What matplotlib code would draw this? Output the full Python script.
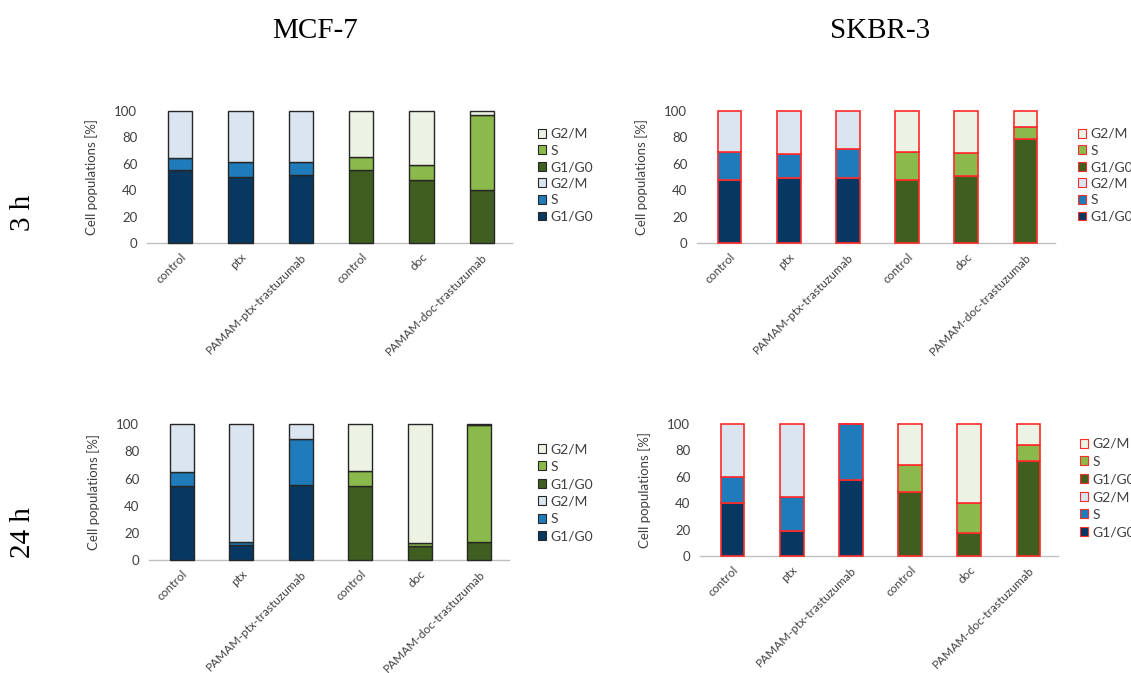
import matplotlib
matplotlib.use("Agg")
import matplotlib.pyplot as plt
from matplotlib.patches import Patch

# categories (shared by all four panels)
categories = ["control", "ptx", "PAMAM-ptx-trastuzumab",
              "control", "doc", "PAMAM-doc-trastuzumab"]
phases = ["G1/G0", "S", "G2/M"]

# cell cycle phases [%]
mcf7_3h_g1 = [55.5, 49.7, 51.8, 55.6, 48.0, 40.0]
mcf7_3h_s = [8.6, 11.4, 9.8, 9.6, 11.3, 57.0]
mcf7_3h_g2 = [35.9, 38.9, 38.4, 34.8, 40.7, 3.0]

skbr3_3h_g1 = [48.0, 49.2, 49.2, 48.0, 50.5, 78.8]
skbr3_3h_s = [21.0, 17.8, 22.0, 21.0, 17.9, 8.6]
skbr3_3h_g2 = [31.0, 33.0, 28.8, 31.0, 31.6, 12.6]

mcf7_24h_g1 = [54.5, 11.3, 55.5, 54.5, 10.3, 13.0]
mcf7_24h_s = [10.5, 2.2, 33.5, 11.1, 2.5, 86.3]
mcf7_24h_g2 = [35.0, 86.5, 11.0, 34.4, 87.2, 0.7]

skbr3_24h_g1 = [40.4, 19.2, 57.6, 48.5, 17.7, 72.2]
skbr3_24h_s = [19.2, 25.8, 42.1, 20.5, 22.3, 12.1]
skbr3_24h_g2 = [40.4, 55.0, 0.3, 31.0, 60.0, 15.7]

# colours: ptx groups are blue, doc groups are green
blue = ["#073861", "#1f7bba", "#dae5f0"]
green = ["#3f5e1f", "#8cb94b", "#edf3e4"]
bar_colors = [blue] * 3 + [green] * 3

W, H = 1131, 673
fig = plt.figure(figsize=(W / 100, H / 100), dpi=100)
plt.rcParams["font.family"] = ["Lato", "DejaVu Sans"]

label_gray = "#404040"


def px_axes(left, right, top, bottom):
    return fig.add_axes([left / W, 1 - bottom / H, (right - left) / W, (bottom - top) / H])


def draw_panel(ax, g1, s, g2, edge, lw, legend_xy, legend_space):
    x = range(len(categories))
    for i in x:
        c = bar_colors[i]
        ax.bar(i, g1[i], width=0.4, color=c[0], edgecolor=edge, linewidth=lw, clip_on=False, zorder=3)
        ax.bar(i, s[i], width=0.4, bottom=g1[i], color=c[1], edgecolor=edge, linewidth=lw,
               clip_on=False, zorder=3)
        ax.bar(i, g2[i], width=0.4, bottom=g1[i] + s[i], color=c[2], edgecolor=edge, linewidth=lw,
               clip_on=False, zorder=3)
    ax.set_xlim(-0.55, 5.5)
    ax.set_ylim(0, 100)
    ax.set_yticks(range(0, 101, 20))
    ax.set_xticks(list(x))
    ax.set_xticklabels(categories, rotation=45, ha="right", rotation_mode="anchor",
                       fontsize=8.6, color=label_gray)
    ax.tick_params(axis="y", length=0, labelsize=9.5, labelcolor=label_gray, pad=7)
    ax.tick_params(axis="x", length=0, pad=6)
    for side in ["top", "right", "left"]:
        ax.spines[side].set_visible(False)
    ax.spines["bottom"].set_color("#bfbfbf")
    ax.spines["bottom"].set_linewidth(1.0)
    ax.set_ylabel("Cell populations [%]", fontsize=9.5, color=label_gray)
    ax.yaxis.set_label_coords(-49 / (ax.get_position().width * W), 0.5)

    handles = []
    labels = []
    for cols in [green, blue]:
        for k in [2, 1, 0]:
            handles.append(Patch(facecolor=cols[k], edgecolor=edge, linewidth=0.8))
            labels.append(phases[k])
    ax.legend(handles, labels, loc="upper left", bbox_to_anchor=(legend_xy[0] / W, 1 - legend_xy[1] / H),
              bbox_transform=fig.transFigure, frameon=False, fontsize=10, handlelength=0.6,
              handleheight=0.6, handletextpad=0.3, labelspacing=legend_space, borderpad=0,
              borderaxespad=0, labelcolor=label_gray)


ax1 = px_axes(147, 512, 110.7, 243.3)
draw_panel(ax1, mcf7_3h_g1, mcf7_3h_s, mcf7_3h_g2, "#262626", 1.0, (538, 128), 0.33)

ax2 = px_axes(697, 1055, 110.7, 243.3)
draw_panel(ax2, skbr3_3h_g1, skbr3_3h_s, skbr3_3h_g2, "#ff2a2a", 1.2, (1078, 128), 0.33)

ax3 = px_axes(149, 509, 424.3, 560)
draw_panel(ax3, mcf7_24h_g1, mcf7_24h_s, mcf7_24h_g2, "#262626", 1.0, (538, 443), 0.4)

ax4 = px_axes(700, 1058, 424, 556)
draw_panel(ax4, skbr3_24h_g1, skbr3_24h_s, skbr3_24h_g2, "#ff2a2a", 1.2, (1080, 438), 0.41)

# column and row headers
serif = ["Liberation Serif", "DejaVu Serif"]
fig.text(315 / W, 1 - 31 / H, "MCF-7", ha="center", va="center", fontsize=21, family=serif)
fig.text(880 / W, 1 - 31 / H, "SKBR-3", ha="center", va="center", fontsize=21, family=serif)
fig.text(23 / W, 1 - 213 / H, "3 h", ha="center", va="center", rotation=90, fontsize=21, family=serif)
fig.text(23 / W, 1 - 533 / H, "24 h", ha="center", va="center", rotation=90, fontsize=21, family=serif)

fig.savefig("out.png", dpi=100, facecolor="white")
